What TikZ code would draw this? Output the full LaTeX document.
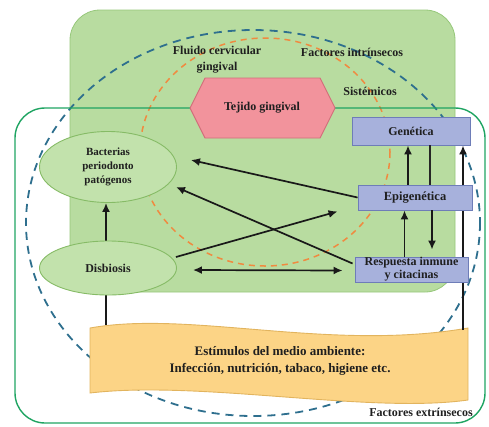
\documentclass[tikz,border=0pt]{standalone}
\usepackage{fontspec}
\setmainfont{Liberation Serif}
\usetikzlibrary{shapes.geometric,arrows.meta}
\definecolor{fondo}{HTML}{B8DCA0}
\definecolor{fondoline}{HTML}{96C77A}
\definecolor{ovalfill}{HTML}{C2E2AC}
\definecolor{ovalline}{HTML}{86BB66}
\definecolor{marco}{HTML}{1FA462}
\definecolor{azul}{HTML}{2E6F8E}
\definecolor{naranja}{HTML}{F08A40}
\definecolor{rosa}{HTML}{F2939C}
\definecolor{rosaline}{HTML}{D26E7A}
\definecolor{cajafill}{HTML}{A7B1DC}
\definecolor{cajaline}{HTML}{6E7DB8}
\definecolor{amarillo}{HTML}{FCD486}
\definecolor{amarilloline}{HTML}{E2B45E}
\begin{document}
\begin{tikzpicture}[x=1pt,y=-1pt,
  txt/.style={font=\bfseries\fontsize{12}{16}\selectfont,text=black!88,align=center,inner sep=0pt},
  oval/.style={ellipse,draw=ovalline,fill=ovalfill,line width=0.9pt,inner sep=0pt,
    font=\bfseries\fontsize{11}{14}\selectfont,text=black!88,align=center},
  caja/.style={rectangle,draw=cajaline,fill=cajafill,line width=0.9pt,inner sep=0pt,
    font=\bfseries\fontsize{12}{13}\selectfont,text=black!88,align=center},
  arr/.style={-{Latex[length=9pt,width=8pt]},line width=1.7pt,black!90},
  lin/.style={line width=1.5pt,black!85}]
  \useasboundingbox (0,0) rectangle (489,426);
  % fondo y circulos
  \draw[fill=fondo,draw=fondoline,line width=0.8pt,rounded corners=30] (70,10) rectangle (455,292);
  \draw[azul,dash pattern=on 8pt off 6pt,line width=1.8pt] (253,223) ellipse [x radius=227,y radius=193];
  \draw[naranja,dash pattern=on 6pt off 5pt,line width=1.5pt] (265,152) ellipse [x radius=125,y radius=114];
  \draw[marco,line width=1.4pt,rounded corners=30] (15,108) rectangle (485,423);
  % estimulos
  \draw[fill=amarillo,draw=amarilloline,line width=0.9pt] (90,328) .. controls (190,310) and (330,352) .. (468,328)
    -- (468,400) .. controls (370,414) and (200,380) .. (90,393) -- cycle;
  \node[txt,font=\bfseries\fontsize{13}{17}\selectfont] (estim) at (280,361) {Estímulos del medio ambiente:\\Infección, nutrición, tabaco, higiene etc.};
  \coordinate (wl) at (106,325);
  \coordinate (wr) at (463,330);
  % tejido
  \draw[fill=rosa,draw=rosaline,line width=0.9pt] (190,108) -- (205,78) -- (320,78) -- (335,108) -- (320,138) -- (205,138) -- cycle;
  \node[txt] (tejido) at (262,108) {Tejido gingival};
  \node[txt] (fluido) at (217,60) {Fluido cervicular\\gingival};
  \node[txt] (intr) at (352,52) {Factores intrínsecos};
  \node[txt] (sist) at (370,91) {Sistémicos};
  \node[txt] (extr) at (421,412) {Factores extrínsecos};
  % lineas largas
  \node[caja,minimum width=118pt,minimum height=28pt] (gen) at (411,131) {Genética};
  \draw[arr] (wr) -- (wr |- gen.south);
  \node[oval,minimum width=137pt,minimum height=71pt] (bact) at (108,167) {Bacterias\\periodonto\\patógenos};
  \draw[arr] (wl) -- (wl |- bact.south);
  \node[oval,minimum width=137pt,minimum height=54pt,font=\bfseries\fontsize{12}{13}\selectfont] (disb) at (108,268) {Disbiosis};
  \node[caja,minimum width=114pt,minimum height=25pt,font=\bfseries\fontsize{12.5}{13}\selectfont] (epi) at (415,197.5) {Epigenética};
  \node[caja,minimum width=113pt,minimum height=25pt] (resp) at (411.5,269.5) {Respuesta inmune\\y citacinas};
  % flechas
  \draw[arr] (epi.west) -- ([shift={(14,-7)}]bact.east);
  \draw[arr] ([shift={(-2,-6)}]resp.west) -- ([shift={(-1,20)}]bact.east);
  \draw[arr] ([shift={(-1,-11)}]disb.east) -- ([shift={(-20,1)}]epi.south west);
  \draw[arr,{Latex[length=9pt,width=8pt]}-{Latex[length=9pt,width=8pt]}] ([shift={(16,2)}]disb.east) -- ([shift={(-12,1)}]resp.west);
  \draw[arr] ([xshift=-7]epi.north) -- ([xshift=-7]epi.north |- gen.south);
  \draw[lin] ([xshift=19]gen.south) -- ([xshift=19]gen.south |- epi.north);
  \draw[arr] ([xshift=-7]resp.north) -- ([xshift=-7]resp.north |- epi.south);
  \draw[arr] ([xshift=17]epi.south) -- ([shift={(17,-7)}]epi.south |- resp.north);
\end{tikzpicture}
\end{document}
